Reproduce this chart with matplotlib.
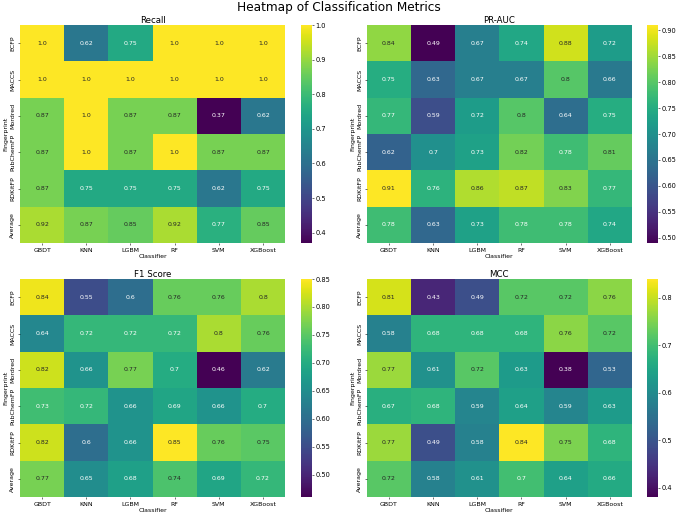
import numpy as np
import matplotlib
matplotlib.use("Agg")
from matplotlib import pyplot as plt

#Labels
classifiers = ['GBDT', 'KNN', 'LGBM', 'RF', 'SVM', 'XGBoost']
fingerprints = ['ECFP', 'MACCS', 'Mordred', 'PubChemFP', 'RDKitFP', 'Average']

#Metric tables (rows = fingerprints, cols = classifiers)
recall = [
    [1.0, 0.62, 0.75, 1.0, 1.0, 1.0],
    [1.0, 1.0, 1.0, 1.0, 1.0, 1.0],
    [0.87, 1.0, 0.87, 0.87, 0.37, 0.62],
    [0.87, 1.0, 0.87, 1.0, 0.87, 0.87],
    [0.87, 0.75, 0.75, 0.75, 0.62, 0.75],
    [0.92, 0.87, 0.85, 0.92, 0.77, 0.85],
    ]
pr_auc = [
    [0.84, 0.49, 0.67, 0.74, 0.88, 0.72],
    [0.75, 0.63, 0.67, 0.67, 0.8, 0.66],
    [0.77, 0.59, 0.72, 0.8, 0.64, 0.75],
    [0.62, 0.7, 0.73, 0.82, 0.78, 0.81],
    [0.91, 0.76, 0.86, 0.87, 0.83, 0.77],
    [0.78, 0.63, 0.73, 0.78, 0.78, 0.74],
    ]
f1_score = [
    [0.84, 0.55, 0.6, 0.76, 0.76, 0.8],
    [0.64, 0.72, 0.72, 0.72, 0.8, 0.76],
    [0.82, 0.66, 0.77, 0.7, 0.46, 0.62],
    [0.73, 0.72, 0.66, 0.69, 0.66, 0.7],
    [0.82, 0.6, 0.66, 0.85, 0.76, 0.75],
    [0.77, 0.65, 0.68, 0.74, 0.69, 0.72],
    ]
mcc = [
    [0.81, 0.43, 0.49, 0.72, 0.72, 0.76],
    [0.58, 0.68, 0.68, 0.68, 0.76, 0.72],
    [0.77, 0.61, 0.72, 0.63, 0.38, 0.53],
    [0.67, 0.68, 0.59, 0.64, 0.59, 0.63],
    [0.77, 0.49, 0.58, 0.84, 0.75, 0.68],
    [0.72, 0.58, 0.61, 0.7, 0.64, 0.66],
    ]

FS = 9

def luminance(rgb):
    c = np.array(rgb[:3])
    c = np.where(c <= 0.03928, c / 12.92, ((c + 0.055) / 1.055) ** 2.4)
    return 0.2126 * c[0] + 0.7152 * c[1] + 0.0722 * c[2]

def heatmap(ax, cax, data, title):
    data = np.array(data)
    cmap = plt.get_cmap('viridis')
    norm = matplotlib.colors.Normalize(vmin=data.min(), vmax=data.max())
    mesh = ax.pcolormesh(data, cmap=cmap, norm=norm)
    ax.set_xlim(0, data.shape[1])
    ax.set_ylim(data.shape[0], 0)
    for s in ax.spines.values():
        s.set_visible(False)
    #Annotations, dark text on light cells like seaborn
    for i in range(data.shape[0]):
        for j in range(data.shape[1]):
            lum = luminance(cmap(norm(data[i, j])))
            color = '.15' if lum > .408 else 'w'
            ax.text(j + 0.5, i + 0.5, str(data[i, j]), ha='center', va='center',
                    color=color, fontsize=FS)
    ax.set_xticks(np.arange(data.shape[1]) + 0.5)
    ax.set_xticklabels(classifiers, fontsize=FS)
    ax.set_yticks(np.arange(data.shape[0]) + 0.5)
    ax.set_yticklabels(fingerprints, fontsize=FS, rotation='vertical', va='center')
    ax.set_xlabel('Classifier', fontsize=FS, labelpad=2)
    ax.set_ylabel('Fingerprint', fontsize=FS, labelpad=2)
    ax.set_title(title, fontsize=12.5, pad=3)
    cb = fig.colorbar(mesh, cax=cax)
    cb.outline.set_linewidth(0)
    cb.ax.tick_params(labelsize=9.5, pad=1.5)

fig = plt.figure(figsize=(13.56, 10.32), dpi=50)
fig.suptitle('Heatmap of Classification Metrics', fontsize=17.5, y=0.986, va='center')

#Layout (figure fractions)
lefts = [0.0295, 0.541]
cb_lefts = [0.444, 0.955]
bottoms = [0.529, 0.0368]
w, h, cw = 0.391, 0.4225, 0.0162

panels = [(recall, 'Recall'), (pr_auc, 'PR-AUC'), (f1_score, 'F1 Score'), (mcc, 'MCC')]
for k, (data, title) in enumerate(panels):
    r, c = divmod(k, 2)
    ax = fig.add_axes([lefts[c], bottoms[r], w, h])
    cax = fig.add_axes([cb_lefts[c], bottoms[r], cw, h])
    heatmap(ax, cax, data, title)

plt.savefig('out.png', dpi=50)
